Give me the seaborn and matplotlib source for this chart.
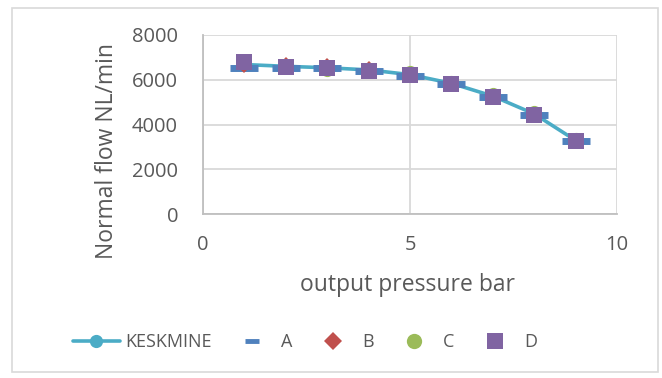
import matplotlib
matplotlib.use("Agg")
import matplotlib.pyplot as plt
from matplotlib.lines import Line2D
from matplotlib.patches import Rectangle
import seaborn as sns
import pandas as pd

# Output pressure (bar) and normal flow (NL/min) per measured unit
pressure = [1, 2, 3, 4, 5, 6, 7, 8, 9]
flow_a = [6520, 6520, 6520, 6370, 6180, 5800, 5230, 4440, 3260]
flow_b = [6600, 6690, 6660, 6520, 6200, 5850, 5260, 4460, 3270]
flow_c = [6780, 6590, 6440, 6480, 6340, 5920, 5350, 4560, 3360]
flow_d = [6810, 6590, 6520, 6400, 6190, 5790, 5230, 4440, 3260]
flow_mean = [6680, 6600, 6535, 6440, 6230, 5840, 5270, 4475, 3290]

x_ticks = [0, 5, 10]
y_ticks = [0, 2000, 4000, 6000, 8000]

sns.set_theme(style="white")
plt.rcParams["font.family"] = ["Open Sans", "DejaVu Sans"]

text_col = "#595959"
grid_col = "#D9D9D9"

fig = plt.figure(figsize=(6.62, 3.78), dpi=100)
ax = fig.add_axes([203 / 662, 1 - 214 / 378, 414 / 662, 179 / 378])

df = pd.DataFrame({"x": pressure, "A": flow_a, "B": flow_b, "C": flow_c,
                   "D": flow_d, "KESKMINE": flow_mean})

series = [
    # column, colour, marker, size, edge width, line width, zorder,
    # legend marker size, legend edge width
    ("KESKMINE", "#4BACC6", "o", 9, 0, 2.6, 2, 9.5, 0),
    ("A", "#4F81BD", "_", 20, 5, 0, 3, 10, 3.5),
    ("B", "#C0504D", "D", 7.5, 0, 0, 4, 9, 0),
    ("C", "#9BBB59", "o", 9.5, 0, 0, 5, 11, 0),
    ("D", "#8064A2", "s", 11, 0, 0, 6, 11, 0),
]
handles = []
for col, color, mk, ms, mew, lw, z, lms, lmew in series:
    sns.lineplot(data=df, x="x", y=col, ax=ax, color=color, lw=lw,
                 marker=mk, markersize=ms, markeredgewidth=mew,
                 markeredgecolor=color, markerfacecolor=color,
                 zorder=z, legend=False)
    handles.append(Line2D([], [], color=color, lw=lw, marker=mk,
                          markersize=lms, markeredgewidth=lmew,
                          markeredgecolor=color, markerfacecolor=color,
                          label=col))

ax.set_xlim(0, 10)
ax.set_ylim(0, 8000)
ax.set_xticks(x_ticks)
ax.set_yticks(y_ticks)
ax.grid(True, color=grid_col, lw=1.3)
for side, sp in ax.spines.items():
    sp.set_visible(side in ("left", "bottom"))
    sp.set_color("#BFBFBF")
    sp.set_linewidth(1.3)
ax.tick_params(axis="both", length=0, labelsize=14.5, colors=text_col)
ax.tick_params(axis="y", pad=18)
ax.tick_params(axis="x", pad=15)

ax.set_xlabel("output pressure bar", fontsize=16.5, color=text_col)
ax.set_ylabel("Normal flow NL/min", fontsize=16.5, color=text_col)
ax.xaxis.label.set_va("center")
ax.yaxis.label.set_va("center")
ax.xaxis.set_label_coords((408 - 203) / 414, (214 - 285) / 179)
ax.yaxis.set_label_coords((107 - 203) / 414, (214 - 151) / 179)

ax.legend(handles=handles, loc="center",
          bbox_to_anchor=(305 / 662, 1 - 342 / 378),
          bbox_transform=fig.transFigure, ncol=5, frameon=False,
          fontsize=13, handlelength=2.6, columnspacing=0.95,
          handletextpad=0.3, labelcolor=text_col)

fig.patches.append(Rectangle((12 / 662, 6 / 378), 646 / 662, 364 / 378,
                             transform=fig.transFigure, fill=False,
                             edgecolor=grid_col, lw=1.2))

fig.savefig("out.png", dpi=100)
